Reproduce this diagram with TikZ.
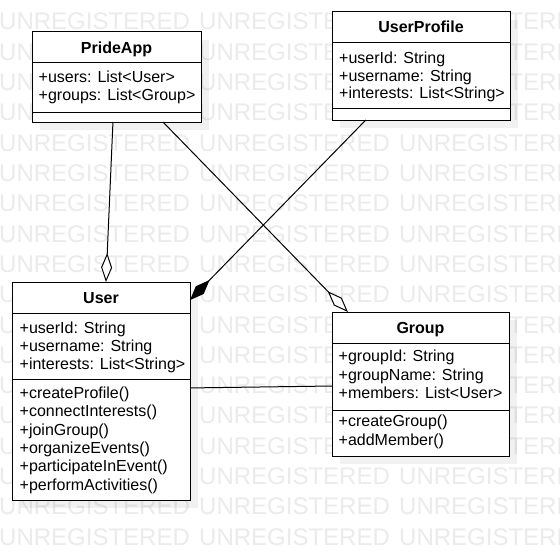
\documentclass[tikz,border=0pt]{standalone}
\usepackage{fontspec}
\setmainfont{Liberation Sans}
\usetikzlibrary{arrows.meta,calc}
\definecolor{wmgray}{HTML}{EBEBEB}
\begin{document}
\begin{tikzpicture}[x=1pt,y=-1pt,
  box/.style={draw=black,line width=1pt,fill=white,inner sep=0pt,outer sep=0pt,anchor=north west},
  divline/.style={draw=black,line width=1pt},
  shade/.style={fill=black,fill opacity=0.055},
  txt/.style={inner sep=0pt,anchor=base west,font=\fontsize{16}{18}\selectfont},
  ttl/.style={inner sep=0pt,anchor=base,font=\fontsize{16}{18}\selectfont\bfseries},
  wm/.style={inner sep=0pt,anchor=base west,text=wmgray,font=\fontsize{24}{26}\selectfont},
  conn/.style={draw=black,line width=1pt},
  agg/.style={-{Diamond[length=29pt,width=11pt,fill=white,line width=1pt]}},
  comp/.style={-{Diamond[length=28pt,width=11pt,line width=1pt]}}]
\useasboundingbox (0,0) rectangle (560,551);
\fill[white] (0,0) rectangle (560,551);
% watermark
\foreach \r in {0,...,17}
  \foreach \c in {0,1,2}
    \node[wm,name=wm-\r-\c] at ({-1+200*\c},{30+30.3*\r}) {UNREGISTERED};
% boxes
\node[box,minimum width=169pt,minimum height=90pt] (pride) at (32,32) {};
\node[box,minimum width=178pt,minimum height=108pt] (profile) at (332,12) {};
\node[box,minimum width=178pt,minimum height=218pt] (user) at (12,282) {};
\node[box,minimum width=177pt,minimum height=144pt] (group) at (332,312) {};
% shadows
\foreach \b in {pride,profile,user,group}
  \path[shade] ($(\b.north west)+(8,8)$) rectangle ($(\b.south east)+(8,8)$);
% redraw boxes on top of shadows
\foreach \b in {pride,profile,user,group}
  \path[draw=black,line width=1pt,fill=white] (\b.north west) rectangle (\b.south east);
% dividers
\draw[divline] ($(pride.north west)+(0,31)$) -- ($(pride.north east)+(0,31)$);
\draw[divline] ($(pride.north west)+(0,80)$) -- ($(pride.north east)+(0,80)$);
\draw[divline] ($(profile.north west)+(0,31)$) -- ($(profile.north east)+(0,31)$);
\draw[divline] ($(profile.north west)+(0,97)$) -- ($(profile.north east)+(0,97)$);
\draw[divline] ($(user.north west)+(0,31)$) -- ($(user.north east)+(0,31)$);
\draw[divline] ($(user.north west)+(0,97)$) -- ($(user.north east)+(0,97)$);
\draw[divline] ($(group.north west)+(0,31)$) -- ($(group.north east)+(0,31)$);
\draw[divline] ($(group.north west)+(0,98)$) -- ($(group.north east)+(0,98)$);
% PrideApp
\node[ttl] (pride-t) at (116.5,53.3) {PrideApp};
\node[txt] (pride-a1) at (38.5,82) {+users: List<User>};
\node[txt] (pride-a2) at (38.5,100.3) {+groups: List<Group>};
% UserProfile
\node[ttl] (profile-t) at (421,32.5) {UserProfile};
\node[txt] (profile-a1) at (339,63.5) {+userId: String};
\node[txt] (profile-a2) at (339,81.5) {+username: String};
\node[txt] (profile-a3) at (339,99) {+interests: List<String>};
% User
\node[ttl] (user-t) at (101,303.3) {User};
\node[txt] (user-a1) at (19.5,333.3) {+userId: String};
\node[txt] (user-a2) at (19.5,351.5) {+username: String};
\node[txt] (user-a3) at (19.5,369.5) {+interests: List<String>};
\node[txt] (user-m1) at (19.5,398.3) {+createProfile()};
\node[txt] (user-m2) at (19.5,416.7) {+connectInterests()};
\node[txt] (user-m3) at (19.5,435) {+joinGroup()};
\node[txt] (user-m4) at (19.5,453) {+organizeEvents()};
\node[txt] (user-m5) at (19.5,471.5) {+participateInEvent()};
\node[txt] (user-m6) at (19.5,490) {+performActivities()};
% Group
\node[ttl] (group-t) at (420.5,333.5) {Group};
\node[txt] (group-a1) at (338.5,361.7) {+groupId: String};
\node[txt] (group-a2) at (338.5,380) {+groupName: String};
\node[txt] (group-a3) at (338.5,398.3) {+members: List<User>};
\node[txt] (group-m1) at (338.5,426.7) {+createGroup()};
\node[txt] (group-m2) at (338.5,445) {+addMember()};
% connectors
\draw[conn,agg] ($(pride.south west)!0.479!(pride.south east)$) -- ($(user.north west)!0.528!(user.north east)$);
\draw[conn,agg] ($(pride.south west)!0.775!(pride.south east)$) -- ($(group.north west)!0.09!(group.north east)$);
\draw[conn,comp] ($(profile.south west)!0.19!(profile.south east)$) -- ($(user.north east)!0.083!(user.south east)$);
\draw[conn] ($(user.north east)!0.486!(user.south east)$) -- ($(group.north west)!0.514!(group.south west)$);
\end{tikzpicture}
\end{document}
